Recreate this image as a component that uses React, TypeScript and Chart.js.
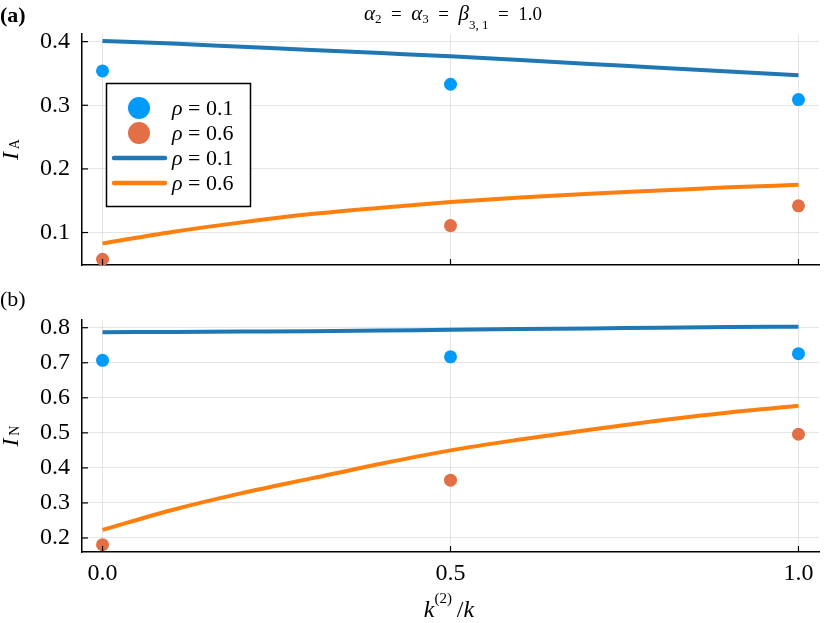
import { useEffect, useRef } from 'react';
import { Chart, registerables } from 'chart.js';

Chart.register(...registerables);

// simulation points (dots) at k2/k = 0, 0.5, 1
const dotX = [0, 0.5, 1.0];
const topDotsLow = [0.354, 0.333, 0.309]; // rho = 0.1
const topDotsHigh = [0.058, 0.111, 0.142]; // rho = 0.6
const botDotsLow = [0.707, 0.717, 0.726];
const botDotsHigh = [0.181, 0.365, 0.496];

// theory curves
const curveX = [0, 0.1, 0.2, 0.3, 0.4, 0.5, 0.6, 0.7, 0.8, 0.9, 1.0];
const topCurveLow = [0.401, 0.397, 0.392, 0.387, 0.382, 0.377, 0.371, 0.365, 0.359, 0.353, 0.347];
const topCurveHigh = [0.083, 0.101, 0.116, 0.129, 0.139, 0.148, 0.155, 0.161, 0.166, 0.171, 0.175];
const botCurveLow = [0.787, 0.788, 0.789, 0.79, 0.792, 0.794, 0.796, 0.798, 0.8, 0.802, 0.803];
const botCurveHigh = [0.223, 0.28, 0.328, 0.37, 0.412, 0.45, 0.481, 0.509, 0.535, 0.558, 0.577];

const xTicks = [0, 0.5, 1.0];
const topYTicks = [0.1, 0.2, 0.3, 0.4];
const botYTicks = [0.2, 0.3, 0.4, 0.5, 0.6, 0.7, 0.8];
const legendLabels = ['0.1', '0.6', '0.1', '0.6'];

const SERIF = '"Liberation Serif", "DejaVu Serif", serif';
const DOT_BLUE = '#009afa';
const DOT_ORANGE = '#e26f46';
const LINE_BLUE = '#1f77b4';
const LINE_ORANGE = '#ff7f0e';

type Part = { t: string; size: number; italic?: boolean; bold?: boolean; dy?: number };

function font(p: Part) {
  return `${p.italic ? 'italic ' : ''}${p.bold ? 'bold ' : ''}${p.size}px ${SERIF}`;
}

function drawRich(ctx: CanvasRenderingContext2D, parts: Part[], x: number, y: number, align: 'left' | 'center') {
  let total = 0;
  const widths = parts.map(p => {
    ctx.font = font(p);
    const w = ctx.measureText(p.t).width;
    total += w;
    return w;
  });
  let cx = align === 'center' ? x - total / 2 : x;
  ctx.textAlign = 'left';
  parts.forEach((p, i) => {
    ctx.font = font(p);
    ctx.fillText(p.t, cx, y + (p.dy ?? 0));
    cx += widths[i];
  });
}

const pts = (xs: number[], ys: number[]) => xs.map((x, i) => ({ x, y: ys[i] }));

function makeDatasets(dotsLow: number[], dotsHigh: number[], curveLow: number[], curveHigh: number[]) {
  const dot = (data: number[], color: string) => ({
    type: 'scatter' as const,
    data: pts(dotX, data),
    backgroundColor: color,
    borderColor: color,
    pointRadius: 6.5,
    pointBorderWidth: 0,
    showLine: false,
    order: 1,
  });
  const line = (data: number[], color: string) => ({
    type: 'line' as const,
    data: pts(curveX, data),
    borderColor: color,
    backgroundColor: color,
    borderWidth: 4,
    pointRadius: 0,
    cubicInterpolationMode: 'monotone' as const,
    fill: false,
    order: 2,
  });
  return [
    dot(dotsLow, DOT_BLUE),
    dot(dotsHigh, DOT_ORANGE),
    line(curveLow, LINE_BLUE),
    line(curveHigh, LINE_ORANGE),
  ];
}

interface PanelProps {
  height: number;
  padTop: number;
  xAxisHeight: number;
  showXLabels: boolean;
  yMin: number;
  yMax: number;
  yTicks: number[];
  datasets: any[];
  decorate: (chart: Chart) => void;
}

function Panel({ height, padTop, xAxisHeight, showXLabels, yMin, yMax, yTicks, datasets, decorate }: PanelProps) {
  const canvasRef = useRef<HTMLCanvasElement>(null);
  const chartRef = useRef<Chart | null>(null);

  useEffect(() => {
    if (!canvasRef.current) return;
    if (chartRef.current) chartRef.current.destroy();

    const decor = {
      id: 'decor',
      afterDatasetsDraw(chart: Chart) {
        const ctx = chart.ctx;
        const { left, bottom } = chart.chartArea;
        // inward tick marks
        ctx.save();
        ctx.strokeStyle = '#000';
        ctx.lineWidth = 1.2;
        const ys = chart.scales.y;
        ys.ticks.forEach(t => {
          const py = ys.getPixelForValue(t.value);
          ctx.beginPath();
          ctx.moveTo(left, py);
          ctx.lineTo(left + 6, py);
          ctx.stroke();
        });
        const xs = chart.scales.x;
        xs.ticks.forEach(t => {
          const px = xs.getPixelForValue(t.value);
          ctx.beginPath();
          ctx.moveTo(px, bottom);
          ctx.lineTo(px, bottom - 6);
          ctx.stroke();
        });
        ctx.restore();
        ctx.save();
        ctx.fillStyle = '#000';
        ctx.textBaseline = 'alphabetic';
        decorate(chart);
        ctx.restore();
      },
    };

    chartRef.current = new Chart(canvasRef.current, {
      type: 'scatter',
      data: { datasets },
      options: {
        responsive: true,
        maintainAspectRatio: false,
        animation: false,
        layout: { padding: { top: padTop, right: 11, left: 0, bottom: 0 } },
        plugins: { legend: { display: false }, title: { display: false }, tooltip: { enabled: false } },
        scales: {
          x: {
            type: 'linear',
            min: -0.0295,
            max: 1.0295,
            afterBuildTicks: (s: any) => {
              s.ticks = xTicks.map(v => ({ value: v }));
            },
            afterFit: (s: any) => {
              s.height = xAxisHeight;
              s.paddingLeft = 0;
              s.paddingRight = 0;
            },
            grid: { color: 'rgba(0,0,0,0.1)', lineWidth: 1, drawTicks: false },
            border: { display: true, color: '#000', width: 1.5 },
            ticks: {
              display: showXLabels,
              padding: 7,
              color: '#000',
              font: { family: SERIF, size: 24 },
              callback: (v: any) => Number(v).toFixed(1),
            },
          },
          y: {
            type: 'linear',
            min: yMin,
            max: yMax,
            afterBuildTicks: (s: any) => {
              s.ticks = yTicks.map(v => ({ value: v }));
            },
            afterFit: (s: any) => {
              s.width = 82;
              s.paddingTop = 0;
              s.paddingBottom = 0;
            },
            grid: { color: 'rgba(0,0,0,0.1)', lineWidth: 1, drawTicks: false },
            border: { display: true, color: '#000', width: 1.5 },
            ticks: {
              padding: 12,
              color: '#000',
              font: { family: SERIF, size: 24 },
              callback: (v: any) => Number(v).toFixed(1),
            },
          },
        },
      },
      plugins: [decor],
    });

    return () => {
      if (chartRef.current) {
        chartRef.current.destroy();
        chartRef.current = null;
      }
    };
  }, []);

  return (
    <div style={{ position: 'relative', width: '830px', height: `${height}px` }}>
      <canvas ref={canvasRef} />
    </div>
  );
}

function drawYLabel(ctx: CanvasRenderingContext2D, sub: string, x: number, y: number) {
  ctx.save();
  ctx.translate(x, y);
  ctx.rotate(-Math.PI / 2);
  drawRich(
    ctx,
    [
      { t: 'I', size: 24, italic: true },
      { t: '\u2009' + sub, size: 14, dy: 1 },
    ],
    0,
    0,
    'center'
  );
  ctx.restore();
}

function decorateTop(chart: Chart) {
  const ctx = chart.ctx;
  const { top, bottom } = chart.chartArea;

  drawRich(ctx, [{ t: '(a)', size: 22, bold: true }], 0, 22, 'left');

  const eq = '\u2002=\u2002';
  drawRich(
    ctx,
    [
      { t: 'α', size: 21, italic: true },
      { t: '2', size: 13, dy: 3 },
      { t: eq, size: 19 },
      { t: 'α', size: 21, italic: true },
      { t: '3', size: 13, dy: 3 },
      { t: eq, size: 19 },
      { t: 'β', size: 21, italic: true },
      { t: '3, 1', size: 13, dy: 9 },
      { t: eq + '1.0', size: 19 },
    ],
    453,
    20,
    'center'
  );

  drawYLabel(ctx, 'A', 18, (top + bottom) / 2);

  // legend box
  const bx = 106.5, by = 83.5, bw = 144, bh = 123;
  ctx.fillStyle = '#fff';
  ctx.fillRect(bx, by, bw, bh);
  ctx.strokeStyle = '#000';
  ctx.lineWidth = 1.5;
  ctx.strokeRect(bx, by, bw, bh);

  const ds = chart.data.datasets as any[];
  ds.forEach((d, i) => {
    const ry = 108 + i * 25;
    if (d.type === 'scatter') {
      ctx.fillStyle = d.backgroundColor;
      ctx.beginPath();
      ctx.arc(139, ry, 11, 0, Math.PI * 2);
      ctx.fill();
    } else {
      ctx.strokeStyle = d.borderColor;
      ctx.lineWidth = 4.5;
      ctx.lineCap = 'round';
      ctx.beginPath();
      ctx.moveTo(114, ry);
      ctx.lineTo(165, ry);
      ctx.stroke();
    }
    ctx.fillStyle = '#000';
    drawRich(
      ctx,
      [
        { t: 'ρ', size: 22, italic: true },
        { t: ' = ' + legendLabels[i], size: 22 },
      ],
      172,
      ry + 7,
      'left'
    );
  });
}

function decorateBottom(chart: Chart) {
  const ctx = chart.ctx;
  const { top, bottom } = chart.chartArea;

  drawRich(ctx, [{ t: '(b)', size: 22 }], 0, 26, 'left');
  drawYLabel(ctx, 'N', 18, (top + bottom) / 2);

  drawRich(
    ctx,
    [
      { t: 'k', size: 24, italic: true },
      { t: '(2)', size: 15, dy: -14 },
      { t: '\u2009/', size: 24 },
      { t: 'k', size: 24, italic: true },
    ],
    449,
    337,
    'center'
  );
}

export default function App() {
  return (
    <div style={{ position: 'absolute', left: 0, top: 0, width: '830px', height: '623px', background: '#fff' }}>
      <Panel
        height={280}
        padTop={34}
        xAxisHeight={15}
        showXLabels={false}
        yMin={0.049}
        yMax={0.412}
        yTicks={topYTicks}
        datasets={makeDatasets(topDotsLow, topDotsHigh, topCurveLow, topCurveHigh)}
        decorate={decorateTop}
      />
      <Panel
        height={343}
        padTop={40}
        xAxisHeight={71}
        showXLabels={true}
        yMin={0.16}
        yMax={0.822}
        yTicks={botYTicks}
        datasets={makeDatasets(botDotsLow, botDotsHigh, botCurveLow, botCurveHigh)}
        decorate={decorateBottom}
      />
    </div>
  );
}
